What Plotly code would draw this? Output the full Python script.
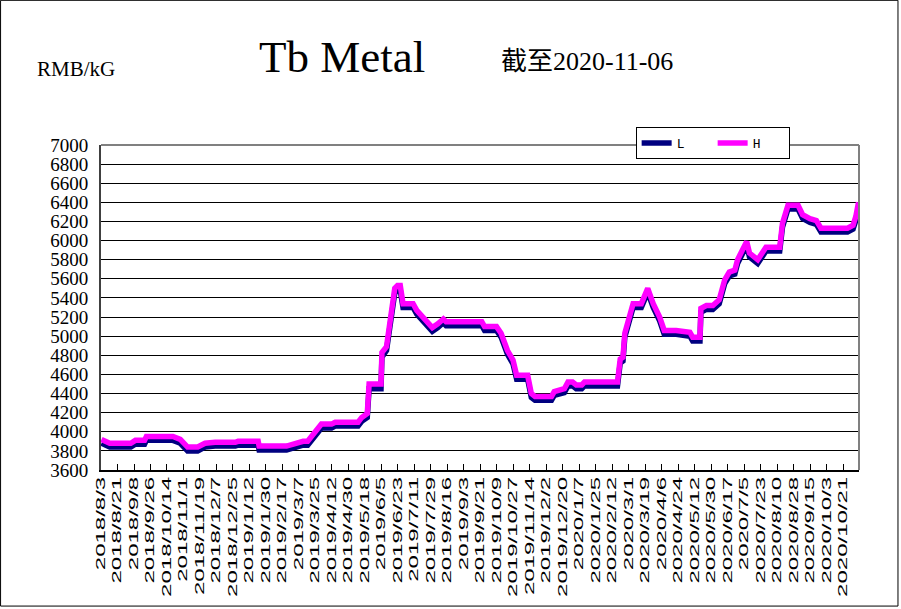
import plotly.graph_objects as go
import pandas as pd

# ---------------- data ----------------
DATES = [
    "2018-08-03", "2018-08-12", "2018-09-04", "2018-09-09", "2018-09-19", "2018-09-21",
    "2018-10-20", "2018-10-28", "2018-11-05", "2018-11-16", "2018-11-24", "2018-12-05",
    "2018-12-27", "2018-12-30", "2019-01-21", "2019-01-22", "2019-02-21", "2019-03-02",
    "2019-03-11", "2019-03-16", "2019-03-31", "2019-04-11", "2019-04-15", "2019-05-10",
    "2019-05-14", "2019-05-20", "2019-05-22", "2019-06-04", "2019-06-05", "2019-06-10",
    "2019-06-19", "2019-06-22", "2019-06-25", "2019-06-28", "2019-07-09", "2019-07-13",
    "2019-07-20", "2019-07-25", "2019-07-30", "2019-08-05", "2019-08-11", "2019-08-14",
    "2019-09-22", "2019-09-25", "2019-10-08", "2019-10-13", "2019-10-20", "2019-10-26",
    "2019-10-30", "2019-11-11", "2019-11-15", "2019-11-19", "2019-12-07", "2019-12-10",
    "2019-12-21", "2019-12-25", "2019-12-30", "2020-01-03", "2020-01-09", "2020-01-12",
    "2020-02-17", "2020-02-20", "2020-02-23", "2020-02-25", "2020-03-05", "2020-03-14",
    "2020-03-21", "2020-03-27", "2020-04-03", "2020-04-08", "2020-04-21", "2020-05-06",
    "2020-05-09", "2020-05-17", "2020-05-18", "2020-05-24", "2020-05-31", "2020-06-07",
    "2020-06-13", "2020-06-18", "2020-06-24", "2020-06-27", "2020-07-03", "2020-07-07",
    "2020-07-10", "2020-07-19", "2020-07-28", "2020-08-12", "2020-08-15", "2020-08-21",
    "2020-09-01", "2020-09-06", "2020-09-14", "2020-09-21", "2020-09-26", "2020-10-25",
    "2020-10-31", "2020-11-03", "2020-11-06",
]

H_PRICE = [
    3920, 3880, 3880, 3910, 3910, 3950,
    3950, 3920, 3840, 3840, 3880, 3890,
    3890, 3900, 3900, 3850, 3850, 3880,
    3900, 3900, 4080, 4080, 4100, 4100,
    4150, 4190, 4500, 4500, 4830, 4890,
    5500, 5530, 5530, 5340, 5340, 5270,
    5200, 5150, 5090, 5130, 5180, 5150,
    5150, 5100, 5100, 5030, 4850, 4750,
    4590, 4590, 4400, 4370, 4370, 4420,
    4450, 4520, 4520, 4490, 4490, 4520,
    4520, 4760, 4780, 5030, 5340, 5340,
    5500, 5340, 5200, 5060, 5060, 5040,
    4990, 4990, 5290, 5320, 5320, 5380,
    5590, 5670, 5690, 5800, 5930, 5990,
    5870, 5800, 5930, 5930, 6180, 6370,
    6370, 6270, 6230, 6210, 6130, 6130,
    6160, 6250, 6400,
]

L_PRICE = [
    3880, 3840, 3840, 3870, 3870, 3910,
    3910, 3880, 3800, 3800, 3840, 3850,
    3850, 3860, 3860, 3810, 3810, 3840,
    3860, 3860, 4040, 4040, 4060, 4060,
    4110, 4150, 4450, 4450, 4780, 4850,
    5450, 5480, 5480, 5300, 5300, 5230,
    5160, 5110, 5050, 5090, 5140, 5110,
    5110, 5060, 5060, 4990, 4810, 4710,
    4550, 4550, 4360, 4330, 4330, 4380,
    4410, 4480, 4480, 4450, 4450, 4480,
    4480, 4720, 4740, 4990, 5300, 5300,
    5460, 5300, 5160, 5020, 5020, 5000,
    4950, 4950, 5250, 5280, 5280, 5340,
    5550, 5630, 5650, 5760, 5890, 5950,
    5830, 5760, 5890, 5890, 6140, 6330,
    6330, 6230, 6190, 6170, 6090, 6090,
    6120, 6210, 6350,
]

TICK_LABELS = [
    "2018/8/3", "2018/8/21", "2018/9/8", "2018/9/26", "2018/10/14", "2018/11/1",
    "2018/11/19", "2018/12/7", "2018/12/25", "2019/1/12", "2019/1/30", "2019/2/17",
    "2019/3/7", "2019/3/25", "2019/4/12", "2019/4/30", "2019/5/18", "2019/6/5",
    "2019/6/23", "2019/7/11", "2019/7/29", "2019/8/16", "2019/9/3", "2019/9/21",
    "2019/10/9", "2019/10/27", "2019/11/14", "2019/12/2", "2019/12/20", "2020/1/7",
    "2020/1/25", "2020/2/12", "2020/3/1", "2020/3/19", "2020/4/6", "2020/4/24",
    "2020/5/12", "2020/5/30", "2020/6/17", "2020/7/5", "2020/7/23", "2020/8/10",
    "2020/8/28", "2020/9/15", "2020/10/3", "2020/10/21",
]

Y_TICKS = list(range(3600, 7001, 200))

FIRST_DAY = "2018-08-03"
LAST_DAY = "2020-11-06"

# ---------------- layout helpers ----------------
W, H = 901, 609
PL, PR, PT, PB = 101, 859.5, 145, 469.6   # plot area in pixels


def px(x):
    return (x - PL) / (PR - PL)


def py(y):
    return (PB - y) / (PB - PT)


half_day = pd.Timedelta(hours=12)
x_dates = pd.to_datetime(DATES)
tick_pos = pd.to_datetime(TICK_LABELS, format="%Y/%m/%d") - half_day
x_range = [pd.Timestamp(FIRST_DAY) - half_day, pd.Timestamp(LAST_DAY) + half_day]

fig = go.Figure()
fig.add_trace(go.Scatter(x=x_dates, y=L_PRICE, name="L", mode="lines",
                         line=dict(color="#000080", width=5.5)))
fig.add_trace(go.Scatter(x=x_dates, y=H_PRICE, name="H", mode="lines",
                         line=dict(color="#FF00FF", width=5.5)))

fig.update_layout(
    width=W, height=H,
    margin=dict(l=PL, r=W - PR, t=PT, b=H - PB, pad=0),
    paper_bgcolor="white", plot_bgcolor="white",
    showlegend=True,
    legend=dict(
        orientation="h", x=px(636), y=py(143), xanchor="left", yanchor="middle",
        bgcolor="white", bordercolor="black", borderwidth=1,
        font=dict(family="Liberation Mono", size=13, color="black"),
        entrywidth=31, tracegroupgap=0,
    ),
    xaxis=dict(
        type="date", range=x_range,
        tickmode="array", tickvals=tick_pos, ticktext=TICK_LABELS,
        tickangle=-90, ticks="inside", ticklen=6, tickcolor="black", tickwidth=1,
        tickfont=dict(family="Liberation Sans", size=12, color="black"),
        showgrid=False, zeroline=False,
        showline=True, linecolor="black", linewidth=2,
    ),
    yaxis=dict(
        range=[3600, 7000], tickmode="array", tickvals=Y_TICKS,
        ticks="", ticklabelstandoff=7,
        tickfont=dict(family="Liberation Serif", size=19, color="black"),
        showgrid=True, gridcolor="black", gridwidth=1, zeroline=False,
        showline=True, linecolor="#404040", linewidth=2,
    ),
    shapes=[
        # grey plot-area border (top & right)
        dict(type="line", xref="paper", yref="paper", x0=0, x1=1, y0=1, y1=1,
             line=dict(color="#808080", width=2), layer="above"),
        dict(type="line", xref="paper", yref="paper", x0=1, x1=1, y0=0, y1=1,
             line=dict(color="#808080", width=2), layer="above"),
        # outer frame of the whole picture
        dict(type="rect", xref="paper", yref="paper",
             x0=px(0.5), x1=px(898.5), y0=py(605.5), y1=py(0.5),
             line=dict(color="black", width=1), layer="above"),
    ],
    annotations=[
        dict(text="RMB/kG", xref="paper", yref="paper", x=px(35), y=py(69),
             xanchor="left", yanchor="middle", showarrow=False,
             font=dict(family="Liberation Serif", size=21, color="black")),
        dict(text="Tb Metal", xref="paper", yref="paper", x=px(342), y=py(57),
             xanchor="center", yanchor="middle", showarrow=False,
             font=dict(family="Liberation Serif", size=45, color="black")),
        dict(text="截至2020-11-06", xref="paper", yref="paper", x=px(499), y=py(62),
             xanchor="left", yanchor="middle", showarrow=False,
             font=dict(family="Liberation Serif, Noto Sans CJK SC", size=26, color="black")),
    ],
)

# page without the browser's default body margin; x tick labels stretched
# lengthwise like the reference's condensed-height date labels
POST_JS = """
document.body.style.margin = '0px';
document.querySelectorAll('.xtick text').forEach(function (t) {
  var n = t.getComputedTextLength();
  t.setAttribute('textLength', (n * 2.0).toFixed(1));
  t.setAttribute('lengthAdjust', 'spacingAndGlyphs');
});
"""

fig.write_html("out.html", post_script=POST_JS,
               config={"displayModeBar": False, "staticPlot": True})
